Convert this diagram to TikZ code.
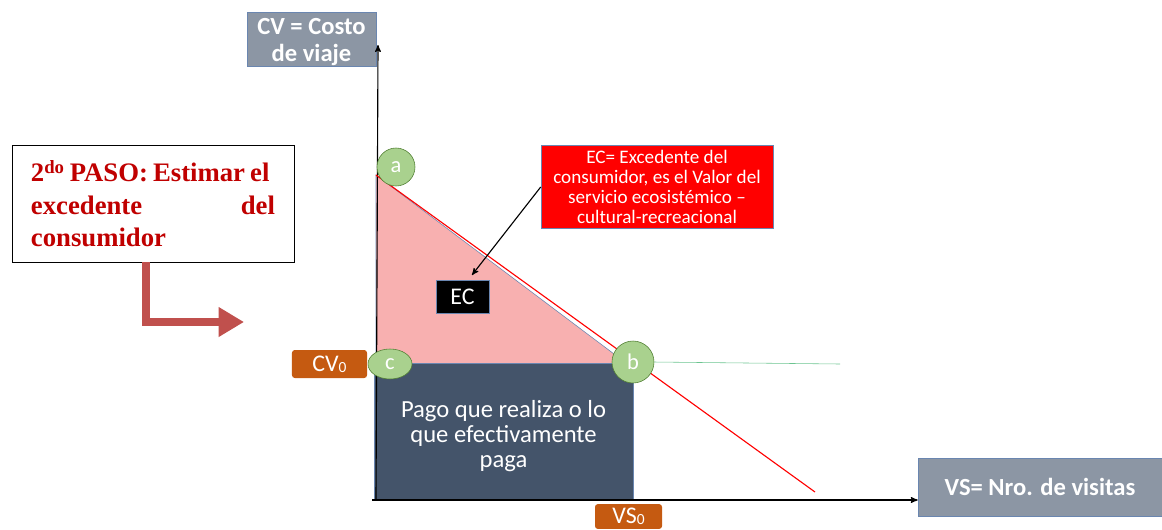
\documentclass[tikz,border=0pt]{standalone}
\usepackage{fontspec}
\setmainfont{Carlito}
\newfontfamily\timesfont{Liberation Serif}
\usetikzlibrary{arrows,arrows.meta,shapes.geometric}

\definecolor{axisgray}{HTML}{8C96A4}
\definecolor{slate}{HTML}{44546A}
\definecolor{rust}{HTML}{C55A11}
\definecolor{pinkfill}{HTML}{F8B0B0}
\definecolor{leaf}{HTML}{A9D18E}
\definecolor{leafline}{HTML}{507E32}
\definecolor{edgeblue}{HTML}{6A86B0}
\definecolor{brick}{HTML}{C0504D}
\definecolor{darkred}{HTML}{C00000}
\definecolor{mint}{HTML}{6CC490}

\newcommand{\zerosub}{\raisebox{-0.5pt}{\fontsize{11}{11}\selectfont 0}}

\begin{document}
\begin{tikzpicture}[x=0.025cm,y=-0.025cm,>=stealth',
  axis label/.style={rectangle,fill=axisgray,draw=edgeblue,thin,text=white,font=\bfseries\fontsize{17.5}{18.5}\selectfont,align=center,inner sep=0pt},
  tag/.style={rectangle,rounded corners=2pt,fill=rust,text=white,font=\fontsize{17}{18}\selectfont,inner sep=0pt},
  point/.style={circle,fill=leaf,draw=leafline,thin,text=white,font=\fontsize{16}{17}\selectfont,inner sep=0pt}]

  \useasboundingbox (0,0) rectangle (1162,529);

  % shaded areas
  \coordinate (top) at (376,175);
  \coordinate (corner) at (376,363);
  \coordinate (foot) at (626,363);
  \fill[pinkfill] (top) -- (corner) -- (foot) -- cycle;
  \draw[edgeblue,thin] (foot) -- (top) -- (corner);

  \node[rectangle,fill=slate,draw=edgeblue,thin,minimum width=6.475cm,minimum height=3.425cm] (pago) at (503.5,431.5) {};
  \node[text=white,align=center,font=\fontsize{17.5}{18}\selectfont] (pagotext) at (503.5,436)
    {Pago que realiza o lo\\que efectivamente\\paga};

  % axes
  \coordinate (origin) at (372,500);
  \coordinate (ytop) at (378,45);
  \node[axis label,minimum width=3.225cm,minimum height=1.35cm] (cv) at (311.5,39) {};
  \node[axis label,fill=none,draw=none] (cvtext) at (311.5,42) {CV = Costo\\de viaje};
  \node[axis label,minimum width=6.1cm,minimum height=1.45cm] (vs) at (1040,487) {VS= Nro. de visitas};
  \draw[->,thick] (376,500) -- (ytop);
  \draw[->,thick] (origin) -- (origin -| vs.west);

  % demand line
  \coordinate (dend) at (815,492);
  \draw[red,thick] (top) -- (dend);
  \coordinate (gend) at (840,364);

  \node[point,minimum size=0.95cm] (a) at (396,167) {a};
  \node[point,minimum size=1.05cm] (b) at (633,362) {b};
  \node[point,ellipse,minimum width=1.1cm,minimum height=0.75cm] (c) at (390,364) {c};
  \draw[mint,thin] (b.east) -- (gend);

  \node[tag,minimum width=1.875cm,minimum height=0.7cm] (cv0) at (329.5,364) {CV\zerosub};
  \node[tag,minimum width=1.675cm,minimum height=0.62cm] (vs0) at (628.5,516.5) {VS\zerosub};

  \node[rectangle,fill=black,draw=edgeblue,thin,minimum width=1.325cm,minimum height=0.825cm,
    text=white,font=\fontsize{17}{18}\selectfont] (ec) at (462.5,296.5) {EC};
  \node[rectangle,fill=red,draw=edgeblue,thin,minimum width=5.8cm,minimum height=2.05cm,
    text=white,align=center,font=\fontsize{13.6}{14.4}\selectfont] (def) at (657,187)
    {EC= Excedente del\\consumidor, es el Valor del\\servicio ecosistémico --\\cultural-recreacional};
  \draw[->,thick] (def.west) -- (472,275);

  % step box
  \node[rectangle,draw=black,fill=white,minimum width=7.05cm,minimum height=2.925cm,
    text width=6.1cm,align=left,text=darkred,
    font=\timesfont\bfseries\fontsize{19}{23}\selectfont] (paso) at (153,203.5)
    {\spaceskip=0.19em 2\textsuperscript{do} PASO: Estimar el\\excedente\hfill del\\consumidor};
  \coordinate (bend) at (146,322);
  \coordinate (aim) at (244,322);
  \draw[brick,line width=5pt,-{Triangle[length=18pt,width=20pt]}] (paso.south -| bend) -- (bend) -- (aim);
\end{tikzpicture}
\end{document}
